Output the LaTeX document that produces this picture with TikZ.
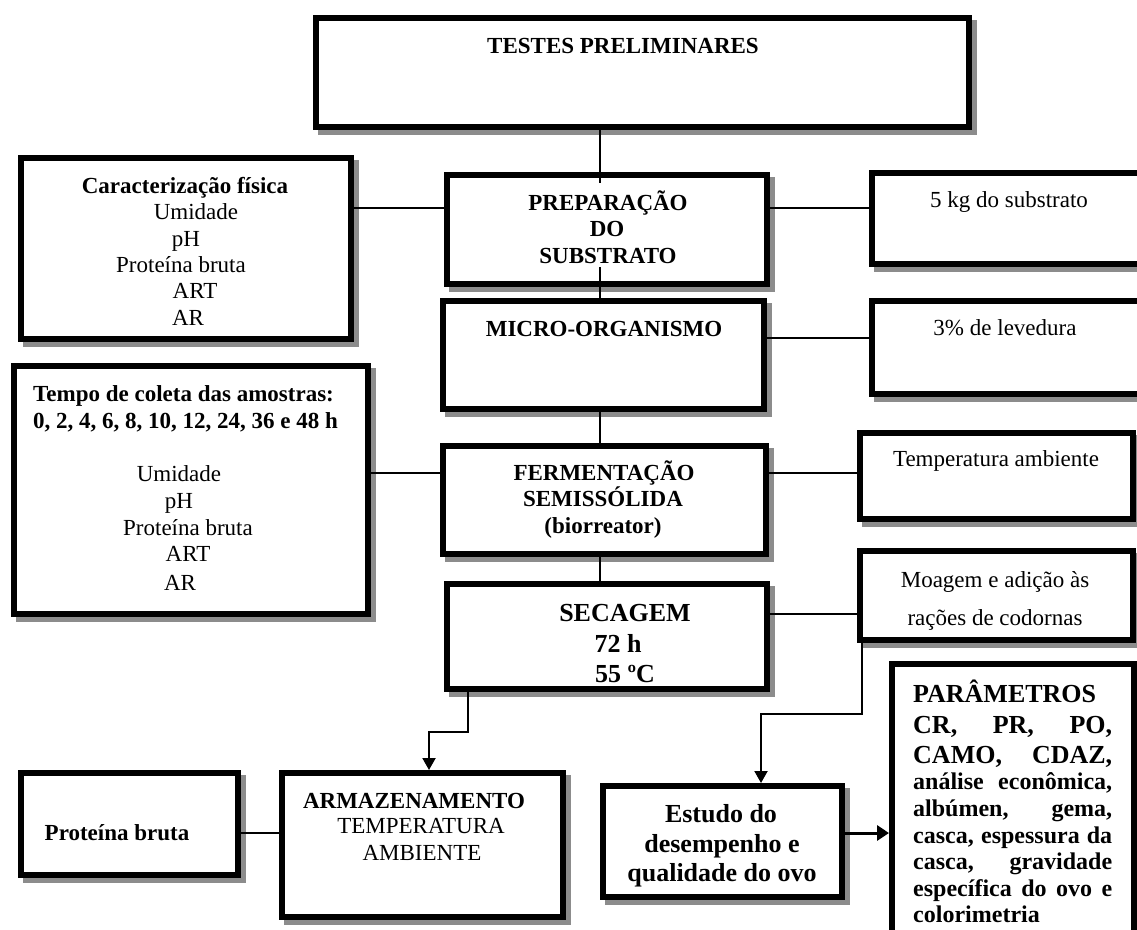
\documentclass[tikz,border=0pt]{standalone}
\usepackage{fontspec}
\setmainfont{Liberation Serif}
\usetikzlibrary{arrows.meta,shadows}
\definecolor{shadowgray}{gray}{0.55}
\begin{document}
\begin{tikzpicture}[x=1pt,y=-1pt,
  box/.style n args={2}{draw, line width=6pt, fill=white, inner sep=0pt, outer sep=3pt,
    minimum width=#1, minimum height=#2,
    drop shadow={shadow xshift=5pt, shadow yshift=-5pt, fill=shadowgray, draw=shadowgray, line width=6pt, opacity=1}},
  tx/.style={anchor=base, inner sep=0pt, font=\fontsize{23pt}{27pt}\selectfont},
  txb/.style={anchor=base, inner sep=0pt, font=\fontsize{23pt}{27pt}\selectfont\bfseries},
  txB/.style={anchor=base, inner sep=0pt, font=\fontsize{26pt}{30pt}\selectfont\bfseries},
  parS/.style={anchor=base west, inner sep=0pt, font=\fontsize{24pt}{27pt}\selectfont\bfseries},
  parL/.style={anchor=base west, inner sep=0pt, font=\fontsize{26pt}{30pt}\selectfont\bfseries},
  conn/.style={line width=2pt},
  arr/.style={line width=2pt, -{Triangle[width=13pt,length=12pt]}},
  arrB/.style={line width=3pt, -{Triangle[width=15pt,length=12pt]}}]
\useasboundingbox (0,0) rectangle (1137,929);
\fill[white] (0,0) rectangle (1137,929);

% boxes
\node[box={653pt}{109pt}] (testes) at (642.5,72.5) {};
\node[box={330pt}{181pt}] (carac) at (186,248.5) {};
\node[box={320pt}{109pt}] (prep) at (607,229.5) {};
\node[box={275pt}{91pt}] (kg5) at (1009.5,218.5) {};
\node[box={321pt}{108pt}] (micro) at (603.5,355) {};
\node[box={275pt}{93pt}] (lev) at (1009.5,347.5) {};
\node[box={354pt}{248pt}] (tempo) at (191,490) {};
\node[box={323pt}{108pt}] (ferm) at (604.5,500) {};
\node[box={273pt}{86pt}] (tamb) at (996.5,476) {};
\node[box={320pt}{105pt}] (sec) at (607,636.5) {};
\node[box={273pt}{89pt}] (moag) at (996.5,595.5) {};
\node[box={217pt}{102pt}] (ptn) at (129.5,824) {};
\node[box={281pt}{144pt}] (arm) at (422.5,845) {};
\node[box={239pt}{111pt}] (est) at (722.5,841.5) {};
\node[box={242pt}{278pt}] (par) at (1013,803) {};

% texts
\node[txb] (tTestes) at (623,53) {TESTES PRELIMINARES};

\node[txb] (tc1) at (185,193) {Caracterização física};
\node[tx] (tc2) at (196,219) {Umidade};
\node[tx] (tc3) at (186,246) {pH};
\node[tx] (tc4) at (181,272) {Proteína bruta};
\node[tx] (tc5) at (195,298) {ART};
\node[tx] (tc6) at (188,325) {AR};

\node[txb] (tp1) at (608,210) {PREPARAÇÃO};
\node[txb] (tp2) at (607,236) {DO};
\node[txb] (tp3) at (608,263) {SUBSTRATO};

\node[tx] (tk) at (1009,207) {5 kg do substrato};
\node[txb] (tm) at (604,336) {MICRO-ORGANISMO};
\node[tx] (tl) at (1005,335) {3\% de levedura};

\node[txb,anchor=base west] (tt1) at (33,401) {Tempo de coleta das amostras:};
\node[txb,anchor=base west] (tt2) at (33,428) {0, 2, 4, 6, 8, 10, 12, 24, 36 e 48 h};
\node[tx] (tt3) at (179,481) {Umidade};
\node[tx] (tt4) at (179,508) {pH};
\node[tx] (tt5) at (188,535) {Proteína bruta};
\node[tx] (tt6) at (188,561) {ART};
\node[tx] (tt7) at (180,590) {AR};

\node[txb] (tf1) at (604,480) {FERMENTAÇÃO};
\node[txb] (tf2) at (603,506) {SEMISSÓLIDA};
\node[txb] (tf3) at (603,533) {(biorreator)};

\node[tx] (ta) at (996,466) {Temperatura ambiente};

\node[txB] (ts1) at (625,621) {SECAGEM};
\node[txB] (ts2) at (618,652) {72 h};
\node[txB] (ts3) at (625,682) {55 ºC};

\node[tx] (tmo1) at (995,587) {Moagem e adição às};
\node[tx] (tmo2) at (995,625) {rações de codornas};

\node[txb] (tpb) at (117,840) {Proteína bruta};

\node[txb] (tar1) at (414,808) {ARMAZENAMENTO};
\node[tx] (tar2) at (421,833) {TEMPERATURA};
\node[tx] (tar3) at (422,860) {AMBIENTE};

\node[txB] (te1) at (721,822) {Estudo do};
\node[txB] (te2) at (722,852) {desempenho e};
\node[txB] (te3) at (722,881) {qualidade do ovo};

\node[parL] (tq1) at (913,702) {PARÂMETROS};
\node[parL] (tq2) at (913,733) {\makebox[199pt][s]{CR, PR, PO,}};
\node[parL] (tq3) at (913,763) {\makebox[199pt][s]{CAMO, CDAZ,}};
\node[parS] (tq4) at (913,789) {\makebox[199pt][s]{análise econômica,}};
\node[parS] (tq5) at (913,816) {\makebox[199pt][s]{albúmen, gema,}};
\node[parS] (tq6) at (913,843) {\makebox[199pt][s]{casca, espessura da}};
\node[parS] (tq7) at (913,869) {\makebox[199pt][s]{casca, gravidade}};
\node[parS] (tq8) at (913,896) {\makebox[199pt][s]{específica do ovo e}};
\node[parS] (tq9) at (913,922) {colorimetria};

% connectors
\coordinate (pin) at (600,183);
\coordinate (pout) at (600,267);
\coordinate (L208) at (0,208);
\coordinate (L338) at (0,338);
\coordinate (L473) at (0,473);
\coordinate (L614) at (0,614);
\coordinate (L833) at (0,833);
\coordinate (e1) at (468,732);
\coordinate (e2) at (429,732);
\coordinate (f1) at (862,714);
\coordinate (f2) at (761,714);

\draw[conn] (testes.south -| pin) -- (pin);
\draw[conn] (pout) -- (micro.north -| pout);
\draw[conn] (micro.south -| pout) -- (ferm.north -| pout);
\draw[conn] (ferm.south -| pout) -- (sec.north -| pout);
\draw[conn] (carac.east |- L208) -- (prep.west |- L208);
\draw[conn] (prep.east |- L208) -- (kg5.west |- L208);
\draw[conn] (micro.east |- L338) -- (lev.west |- L338);
\draw[conn] (tempo.east |- L473) -- (ferm.west |- L473);
\draw[conn] (ferm.east |- L473) -- (tamb.west |- L473);
\draw[conn] (sec.east |- L614) -- (moag.west |- L614);
\draw[conn] (ptn.east |- L833) -- (arm.west |- L833);
\draw[arr] (sec.south -| e1) -- (e1) -- (e2) -- (arm.north -| e2);
\draw[arr] (moag.south -| f1) -- (f1) -- (f2) -- (est.north -| f2);
\draw[arrB] (est.east |- L833) -- (par.west |- L833);
\end{tikzpicture}
\end{document}
